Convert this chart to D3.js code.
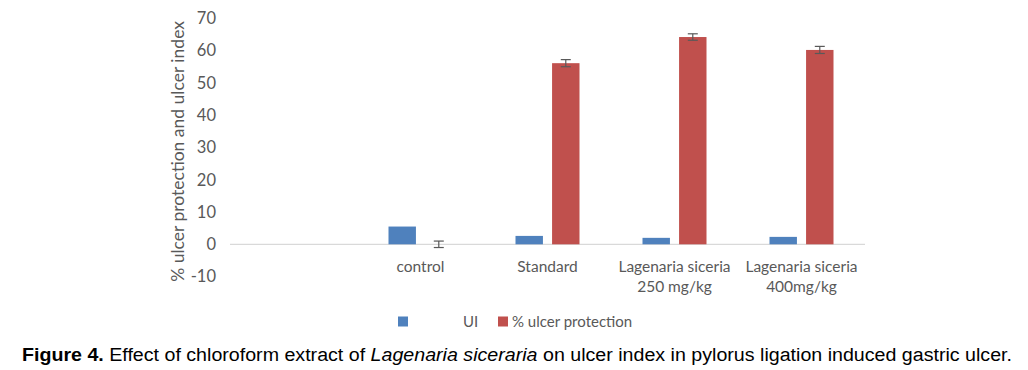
<!DOCTYPE html>
<html>
<head>
<meta charset="utf-8">
<script src="https://cdn.jsdelivr.net/npm/d3@7"></script>
<style>
  body { margin: 0; background: #fff; }
  svg { display: block; }
</style>
</head>
<body>
<div id="main"></div>
<script>
const layout = {
    width: 1028,
    height: 370,
    left: 230,
    right: 865,
    top: 18.3,
    zeroY: 244.3
};

// data
const categories = ["", "control", "Standard", "Lagenaria siceria\n250 mg/kg", "Lagenaria siceria\n400mg/kg"];
const seriesNames = ["UI", "% ulcer protection"];
const uiValues = [null, 5.5, 2.6, 2.0, 2.3];
const protectionValues = [null, 0, 56.1, 64.2, 60.2];
const protectionErrors = [null, 1.0, 1.1, 1.0, 1.1];
const yTicks = [-10, 0, 10, 20, 30, 40, 50, 60, 70];

const colors = ["#4f81bd", "#c0504d"];
const textGray = "#595959";
const chartFont = "Lato, 'Open Sans', sans-serif";

let svg = d3.select("#main").append("svg")
    .attr("width", layout.width)
    .attr("height", layout.height);

let x = d3.scaleBand()
    .domain(d3.range(categories.length))
    .range([layout.left, layout.right]);

let y = d3.scaleLinear()
    .domain([0, 70])
    .range([layout.zeroY, layout.top]);

let inner = d3.scaleBand()
    .domain([0, 1])
    .range([31.5, x.bandwidth() - 31.5])
    .paddingInner(0.25);

// y axis labels only (no line)
let yAxis = svg.append("g")
    .attr("transform", `translate(216,0)`)
    .call(d3.axisLeft(y).tickValues(yTicks).tickSize(0).tickPadding(0).tickFormat(d => String(d)));
yAxis.select(".domain").remove();
yAxis.selectAll("text")
    .attr("fill", textGray)
    .attr("font-size", 16.5)
    .attr("font-family", chartFont);

svg.append("text")
    .attr("transform", `translate(184,${(y(70) + y(-10)) / 2 + 4}) rotate(-90)`)
    .attr("text-anchor", "middle")
    .attr("fill", textGray)
    .attr("font-size", 17.5)
    .attr("font-family", chartFont)
    .text("% ulcer protection and ulcer index");

// zero line
svg.append("line")
    .attr("x1", layout.left)
    .attr("x2", layout.right)
    .attr("y1", y(0))
    .attr("y2", y(0))
    .attr("stroke", "#d9d9d9")
    .attr("stroke-width", 1.2);

const rows = categories.map((c, i) => ({i, ui: uiValues[i], prot: protectionValues[i], err: protectionErrors[i]}));

// UI bars
svg.selectAll(".ui-bar")
    .data(rows.filter(d => d.ui != null))
    .enter().append("rect")
    .attr("class", "ui-bar")
    .attr("fill", colors[0])
    .attr("x", d => x(d.i) + inner(0))
    .attr("width", inner.bandwidth())
    .attr("y", d => y(d.ui))
    .attr("height", d => y(0) - y(d.ui));

// protection bars
svg.selectAll(".prot-bar")
    .data(rows.filter(d => d.prot != null))
    .enter().append("rect")
    .attr("class", "prot-bar")
    .attr("fill", colors[1])
    .attr("x", d => x(d.i) + inner(1))
    .attr("width", inner.bandwidth())
    .attr("y", d => y(Math.max(d.prot, 0)))
    .attr("height", d => Math.abs(y(0) - y(d.prot)));

// error bars
let errG = svg.selectAll(".err")
    .data(rows.filter(d => d.err != null))
    .enter().append("g")
    .attr("class", "err")
    .attr("stroke", "#595959")
    .attr("stroke-width", 1.2);
errG.append("line")
    .attr("x1", d => x(d.i) + inner(1) + inner.bandwidth() / 2)
    .attr("x2", d => x(d.i) + inner(1) + inner.bandwidth() / 2)
    .attr("y1", d => y(d.prot - d.err))
    .attr("y2", d => y(d.prot + d.err));
[-1, 1].forEach(s => {
    errG.append("line")
        .attr("x1", d => x(d.i) + inner(1) + inner.bandwidth() / 2 - 5)
        .attr("x2", d => x(d.i) + inner(1) + inner.bandwidth() / 2 + 5)
        .attr("y1", d => y(d.prot + s * d.err))
        .attr("y2", d => y(d.prot + s * d.err));
});

// category labels
let catLabels = svg.selectAll(".cat")
    .data(rows)
    .enter().append("text")
    .attr("class", "cat")
    .attr("text-anchor", "middle")
    .attr("fill", textGray)
    .attr("font-size", 15.5)
    .attr("font-family", chartFont);
catLabels.each(function(d) {
    let lines = categories[d.i].split("\n");
    lines.forEach((l, k) => {
        d3.select(this).append("tspan")
            .attr("x", x(d.i) + x.bandwidth() / 2)
            .attr("y", 272 + k * 20)
            .text(l);
    });
});

// legend
let legend = svg.append("g").attr("font-family", chartFont).attr("font-size", 15).attr("fill", textGray);
legend.append("rect").attr("x", 398).attr("y", 316.5).attr("width", 10).attr("height", 10).attr("fill", colors[0]);
legend.append("text").attr("x", 463).attr("y", 326.5).text(seriesNames[0]);
legend.append("rect").attr("x", 498).attr("y", 316.5).attr("width", 10).attr("height", 10).attr("fill", colors[1]);
legend.append("text").attr("x", 512).attr("y", 326.5).text(seriesNames[1]);

// caption
let cap = svg.append("text")
    .attr("x", 22)
    .attr("y", 361)
    .attr("font-family", "'Liberation Sans', Arial, sans-serif")
    .attr("font-size", 18)
    .attr("textLength", 990)
    .attr("lengthAdjust", "spacingAndGlyphs")
    .attr("fill", "#000");
cap.append("tspan").attr("font-weight", "bold").text("Figure 4.");
cap.append("tspan").text(" Effect of chloroform extract of ");
cap.append("tspan").attr("font-style", "italic").text("Lagenaria siceraria");
cap.append("tspan").text(" on ulcer index in pylorus ligation induced gastric ulcer.");
</script>
</body>
</html>
